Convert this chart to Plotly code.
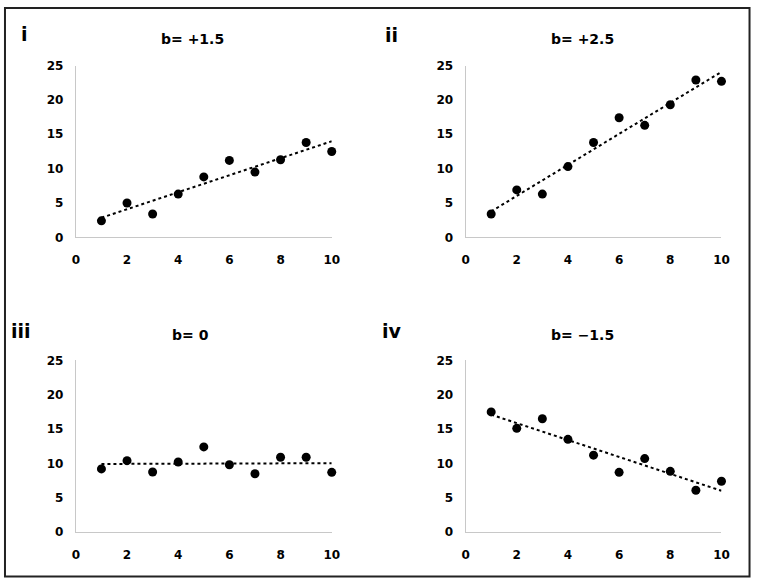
import numpy as np
import plotly.graph_objects as go

W, H = 759, 585

x_vals = [1, 2, 3, 4, 5, 6, 7, 8, 9, 10]
y_i = [2.4, 5.0, 3.4, 6.3, 8.8, 11.2, 9.5, 11.3, 13.8, 12.5]
y_ii = [3.4, 6.9, 6.3, 10.3, 13.8, 17.4, 16.3, 19.3, 22.9, 22.7]
y_iii = [9.2, 10.4, 8.75, 10.2, 12.4, 9.8, 8.5, 10.9, 10.9, 8.7]
y_iv = [17.5, 15.1, 16.5, 13.5, 11.2, 8.7, 10.7, 8.85, 6.1, 7.4]

panel_labels = ["i", "ii", "iii", "iv"]
titles = ["b= +1.5", "b= +2.5", "b= 0", "b= \u22121.5"]
series = [y_i, y_ii, y_iii, y_iv]

# pixel boxes for each plot area: (left, right, top, bottom)
boxes = [(73, 333, 60, 236), (469, 729, 60, 236),
         (73, 333, 362, 538), (469, 729, 362, 538)]
label_pos = [(21, 28), (394, 29), (17, 332), (394, 332)]
title_pos = [(192, 33), (588, 33), (189, 336), (588, 336)]

FONT = "DejaVu Sans"
fig = go.Figure()

for k, (ys, box) in enumerate(zip(series, boxes)):
    l, r, t, b = box
    ax = "" if k == 0 else str(k + 1)
    xa, ya = "x" + ax, "y" + ax
    fig.add_trace(go.Scatter(x=x_vals, y=ys, mode="markers",
                             marker=dict(color="black", size=9),
                             xaxis=xa, yaxis=ya, cliponaxis=False,
                             showlegend=False))
    m, c = np.polyfit(x_vals, ys, 1)
    xs = [x_vals[0], x_vals[-1]]
    fig.add_trace(go.Scatter(x=xs, y=[m * v + c for v in xs], mode="lines",
                             line=dict(color="black", width=2, dash="dot"),
                             xaxis=xa, yaxis=ya, cliponaxis=False,
                             showlegend=False))
    common = dict(showgrid=False, zeroline=False, showline=True,
                  linecolor="#c8c8c8", linewidth=1, ticks="",
                  tickfont=dict(family=FONT, size=12, color="black", weight="bold"))
    fig.layout["xaxis" + ax] = dict(domain=[l / W, r / W], range=[0, 10],
                                    tick0=0, dtick=2, anchor=ya,
                                    ticklabelstandoff=11, **common)
    fig.layout["yaxis" + ax] = dict(domain=[(H - b) / H, (H - t) / H],
                                    range=[0, 25], tick0=0, dtick=5, anchor=xa,
                                    ticklabelstandoff=9, **common)
    lx, ly = label_pos[k]
    fig.add_annotation(text=panel_labels[k], x=lx / W, y=1 - ly / H,
                       xref="paper", yref="paper", showarrow=False,
                       xanchor="center", yanchor="middle",
                       font=dict(family=FONT, size=19, color="black", weight="bold"))
    tx, ty = title_pos[k]
    fig.add_annotation(text=titles[k], x=tx / W, y=1 - ty / H,
                       xref="paper", yref="paper", showarrow=False,
                       xanchor="center", yanchor="middle",
                       font=dict(family=FONT, size=14, color="black", weight="bold"))

fig.add_shape(type="rect", xref="paper", yref="paper",
              x0=1 / W, x1=1 - 1.5 / W, y0=1.5 / H, y1=1 - 1 / H,
              line=dict(color="#222222", width=2))

fig.update_layout(width=W, height=H, margin=dict(l=0, r=0, t=0, b=0),
                  paper_bgcolor="white", plot_bgcolor="white")

fig.write_html("out.html", config={"displayModeBar": False},
               post_script="document.body.style.margin='0';document.body.style.overflow='hidden';")
